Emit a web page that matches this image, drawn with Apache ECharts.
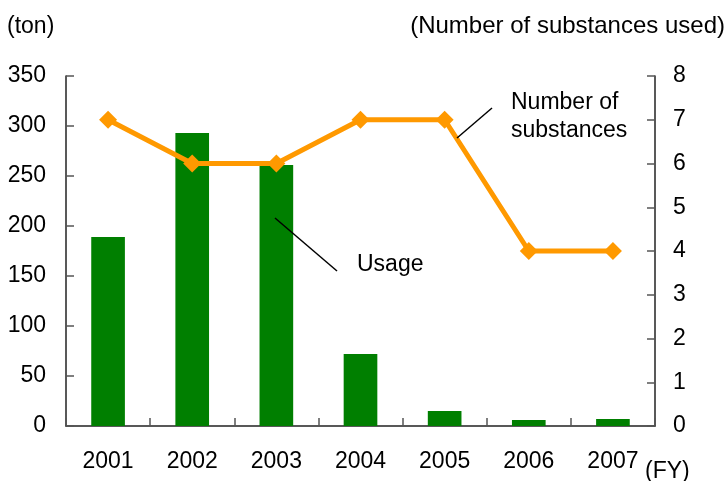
<!DOCTYPE html>
<html>
<head>
<meta charset="utf-8">
<script src="https://cdn.jsdelivr.net/npm/echarts@6/dist/echarts.min.js"></script>
<style>
  html, body { margin: 0; padding: 0; background: #fff; }
  #chart { width: 728px; height: 481px; }
</style>
</head>
<body>
<div id="chart"></div>
<script>
// Fiscal years on the category axis
const years = ['2001', '2002', '2003', '2004', '2005', '2006', '2007'];
// Usage in tons (bars, left axis)
const usage = [189, 293, 261, 72, 15, 6, 7];
// Number of substances used (line, right axis)
const substances = [7, 6, 6, 7, 7, 4, 4];

const FONT = '"Liberation Sans", Arial, sans-serif';
const FS = 23;
const chart = echarts.init(document.getElementById('chart'), null, { renderer: 'canvas' });

const axisLine = { show: true, lineStyle: { color: '#222', width: 1.5 } };
const tickStyle = { show: true, inside: true, length: 8, lineStyle: { color: '#555', width: 1.5 } };
const labelStyle = { color: '#000', fontSize: FS, fontFamily: FONT };

chart.setOption({
  animation: false,
  grid: { left: 66, right: 73, top: 76, bottom: 55 },
  xAxis: {
    type: 'category',
    data: years,
    axisLine: axisLine,
    axisTick: { show: true, inside: true, length: 8, lineStyle: { color: '#555', width: 1.5 } },
    axisLabel: Object.assign({ margin: 24 }, labelStyle),
    splitLine: { show: false }
  },
  yAxis: [
    {
      type: 'value', min: 0, max: 350, interval: 50,
      axisLine: axisLine, axisTick: tickStyle,
      axisLabel: Object.assign({ margin: 20 }, labelStyle),
      splitLine: { show: false }
    },
    {
      type: 'value', min: 0, max: 8, interval: 1, position: 'right',
      axisLine: axisLine, axisTick: tickStyle,
      axisLabel: Object.assign({ margin: 18 }, labelStyle),
      splitLine: { show: false }
    }
  ],
  series: [
    {
      name: 'Usage', type: 'bar', data: usage, yAxisIndex: 0,
      barWidth: '40%', itemStyle: { color: '#007f00' }
    },
    {
      name: 'Number of substances', type: 'line', data: substances, yAxisIndex: 1,
      symbol: 'diamond', symbolSize: 18,
      lineStyle: { color: '#ff9900', width: 5 },
      itemStyle: { color: '#ff9900' }
    }
  ],
  graphic: [
    { type: 'text', left: 7, top: 15, z: 100, style: { text: '(ton)', font: FS + 'px ' + FONT, fill: '#000' } },
    { type: 'text', right: 3, top: 14, z: 100, style: { text: '(Number of substances used)', font: '24px ' + FONT, fill: '#000' } },
    { type: 'text', left: 645, top: 460, z: 100, style: { text: '(FY)', font: FS + 'px ' + FONT, fill: '#000' } },
    { type: 'text', left: 357, top: 253, z: 100, style: { text: 'Usage', font: FS + 'px ' + FONT, fill: '#000' } },
    { type: 'line', z: 100, shape: { x1: 275, y1: 218, x2: 337, y2: 271 }, style: { stroke: '#000', lineWidth: 1.5 } },
    { type: 'text', left: 511, top: 89, z: 100, style: { text: 'Number of\nsubstances', font: FS + 'px ' + FONT, fill: '#000', lineHeight: 28 } },
    { type: 'line', z: 100, shape: { x1: 457, y1: 138, x2: 492, y2: 108 }, style: { stroke: '#000', lineWidth: 1.5 } }
  ]
});
</script>
</body>
</html>
